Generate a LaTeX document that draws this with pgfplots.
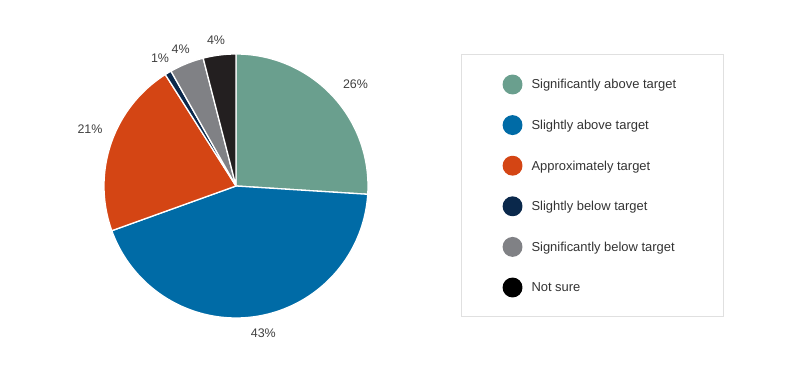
\documentclass[border=0pt]{standalone}
\usepackage{pgfplots}
\pgfplotsset{compat=1.18}
\usepackage{fontspec}
\setmainfont{Liberation Sans}
\definecolor{cA}{HTML}{6A9F8E}
\definecolor{cB}{HTML}{006BA6}
\definecolor{cC}{HTML}{D44514}
\definecolor{cD}{HTML}{0A284B}
\definecolor{cE}{HTML}{808185}
\definecolor{cF}{HTML}{231F20}
\definecolor{labgray}{HTML}{404040}
\definecolor{leggray}{HTML}{333333}
\definecolor{framegray}{HTML}{E0E0E0}
\begin{document}
\begin{tikzpicture}
% slice values (percent)
\def\vA{26.0}\def\vB{43.5}\def\vC{21.5}\def\vD{0.8}\def\vE{4.2}\def\vF{4.0}
\pgfmathsetmacro\aA{90}
\pgfmathsetmacro\aB{\aA-3.6*\vA}
\pgfmathsetmacro\aC{\aB-3.6*\vB}
\pgfmathsetmacro\aD{\aC-3.6*\vC}
\pgfmathsetmacro\aE{\aD-3.6*\vD}
\pgfmathsetmacro\aF{\aE-3.6*\vE}
\pgfmathsetmacro\aG{\aF-3.6*\vF}
\begin{axis}[
  scale only axis, width=800bp, height=371bp,
  xmin=0, xmax=800, ymin=0, ymax=371,
  axis line style={draw=none}, ticks=none,
  axis background/.style={fill=white},
  clip=false,
  legend style={at={(axis cs:502.4,307)}, anchor=north west, draw=none, fill=none,
    inner xsep=0pt, inner ysep=0pt, column sep=9bp, row sep=0pt,
    font=\fontsize{13}{15}\selectfont, text=leggray,
    nodes={inner xsep=0pt, inner ysep=0pt, minimum height=40.6bp, text height=0.87em, text depth=0pt},
    cells={anchor=west}},
  slice/.style={fill=#1, draw=white, line width=1.3bp, line join=round, samples=90,
    legend image code/.code={\fill[#1] (0bp,0bp) circle (9.3bp);}},
]
\addplot[slice=cA, domain=\aB:\aA] ({236+132*cos(x)},{185+132*sin(x)}) -- (236,185) -- cycle;
\addlegendentry{Significantly above target}
\addplot[slice=cB, domain=\aC:\aB] ({236+132*cos(x)},{185+132*sin(x)}) -- (236,185) -- cycle;
\addlegendentry{Slightly above target}
\addplot[slice=cC, domain=\aD:\aC] ({236+132*cos(x)},{185+132*sin(x)}) -- (236,185) -- cycle;
\addlegendentry{Approximately target}
\addplot[slice=cD, domain=\aE:\aD, samples=10] ({236+132*cos(x)},{185+132*sin(x)}) -- (236,185) -- cycle;
\addlegendentry{Slightly below target}
\addplot[slice=cE, domain=\aF:\aE, samples=20] ({236+132*cos(x)},{185+132*sin(x)}) -- (236,185) -- cycle;
\addlegendentry{Significantly below target}
\addplot[slice=cF, domain=\aG:\aF, samples=20, legend image code/.code={\fill[black] (0bp,0bp) circle (9.3bp);}] ({236+132*cos(x)},{185+132*sin(x)}) -- (236,185) -- cycle;
\addlegendentry{Not sure}

\draw[framegray, line width=1bp] (461.5,54.5) rectangle (723.5,316.5);

\begin{scope}[every node/.style={font=\fontsize{12.5}{14}\selectfont, text=labgray, inner sep=0pt}]
\node at (355.5,287.2) {26\%};
\node at (263.3,37.8) {43\%};
\node at (90,242) {21\%};
\node at (160,313.2) {1\%};
\node at (180.7,322.2) {4\%};
\node at (216,330.5) {4\%};
\end{scope}
\end{axis}
\end{tikzpicture}
\end{document}
